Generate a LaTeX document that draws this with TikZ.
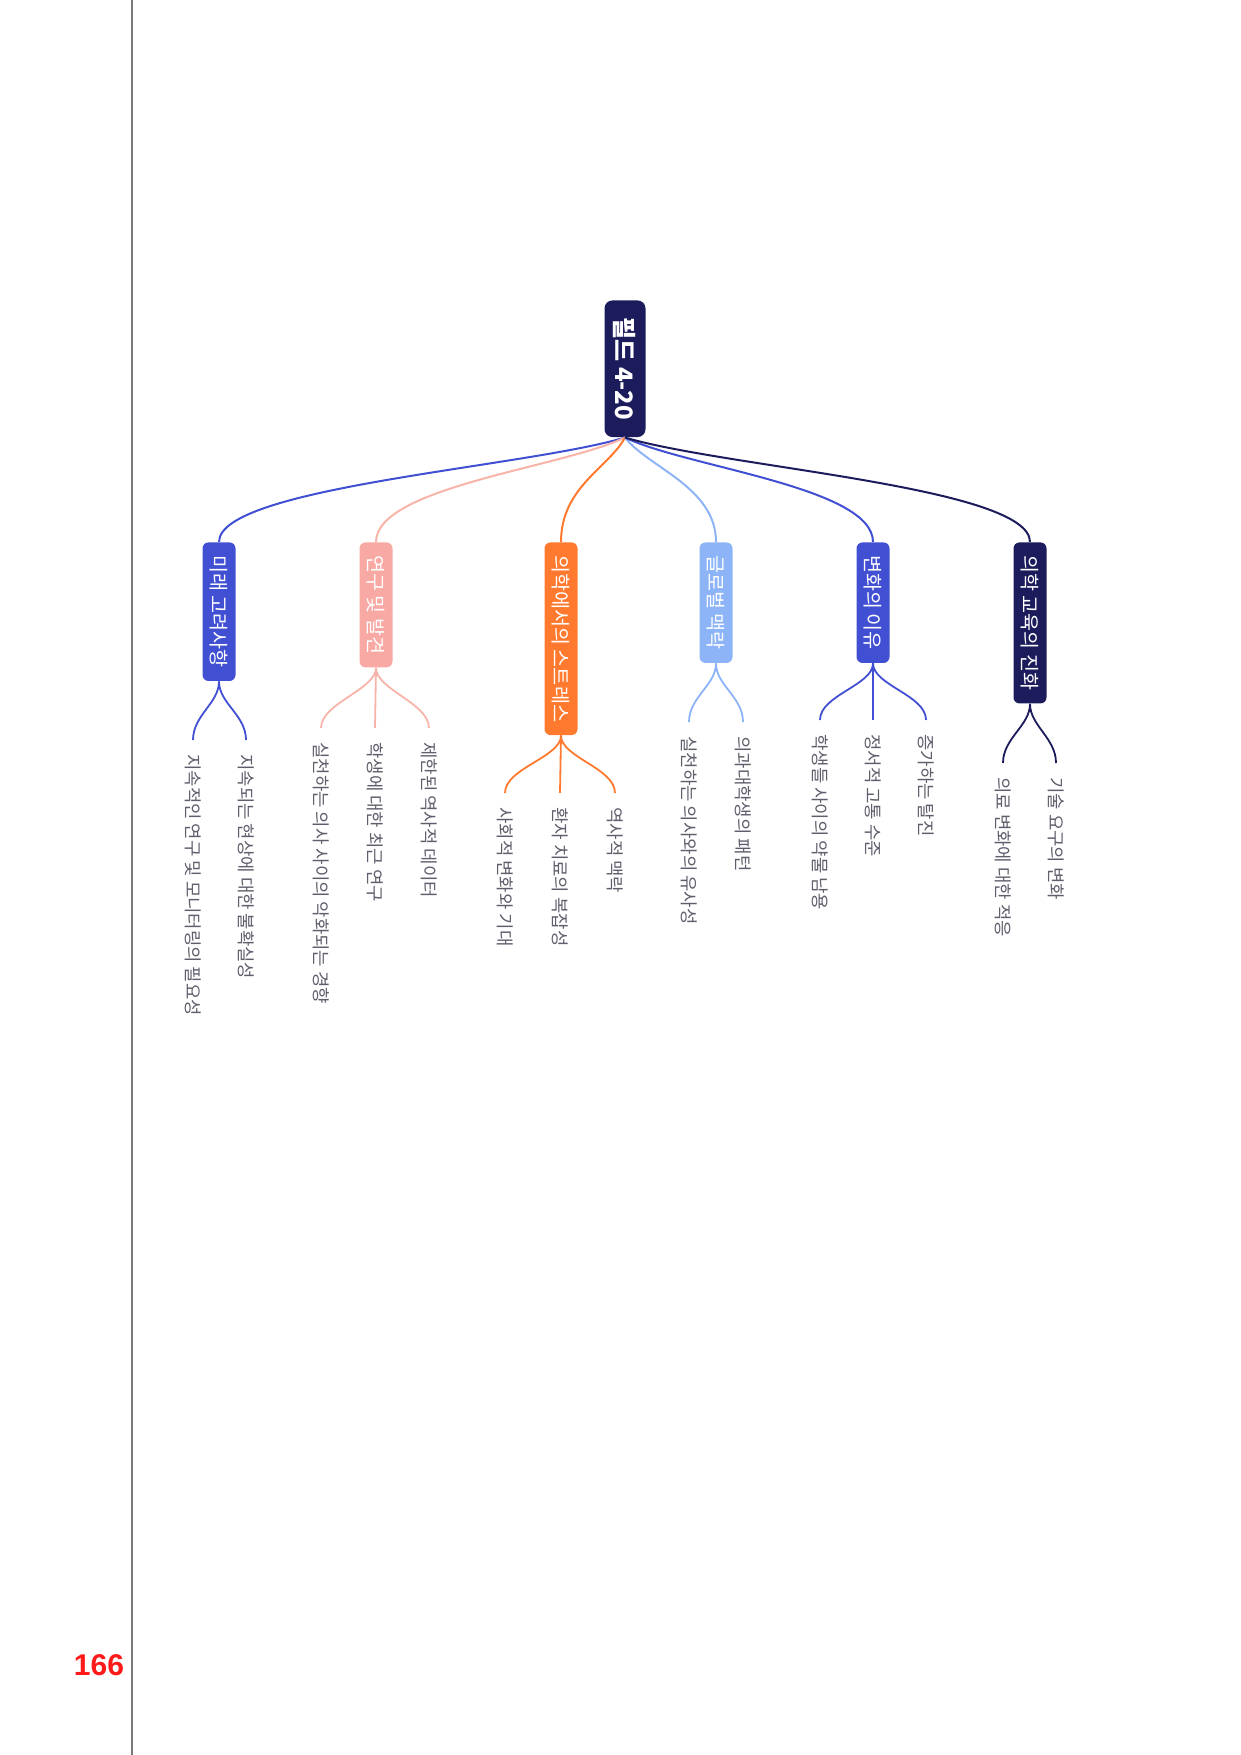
\documentclass[tikz,border=0pt]{standalone}
\usepackage{fontspec}
\setmainfont{Noto Sans CJK KR}
\newfontfamily\pagenumfont{Liberation Sans}
\usepackage{tikz}
\definecolor{mmNavy}{HTML}{1C1B5B}
\definecolor{mmBlue}{HTML}{4150D2}
\definecolor{mmPink}{HTML}{F9A9A3}
\definecolor{mmPinkLine}{HTML}{F8B4A8}
\definecolor{mmOrange}{HTML}{FF7A2F}
\definecolor{mmSky}{HTML}{8CB4F7}
\definecolor{mmText}{HTML}{5E5E6C}
\definecolor{mmRule}{HTML}{7A7A7A}
\definecolor{mmRed}{HTML}{FF1A1A}

\begin{document}
\begin{tikzpicture}[x=0.5pt,y=-0.5pt,
    rootbox/.style={fill=mmNavy, rounded corners=4pt, rotate=-90, anchor=west, text=white,
                    font=\fontsize{12}{12}\selectfont\bfseries, minimum height=20.5pt,
                    inner xsep=8.5pt, inner ysep=0pt},
    topic/.style={rounded corners=3pt, rotate=-90, anchor=west, text=white,
                  font=\fontsize{9.8}{10}\selectfont, minimum height=16.5pt,
                  inner xsep=6.5pt, inner ysep=0pt},
    leaf/.style={rotate=-90, anchor=west, text=mmText, font=\fontsize{8.9}{9}\selectfont,
                 inner xsep=7pt, inner ysep=0pt},
    link/.style={line width=1pt},
    twig/.style={line width=0.9pt}]
    \useasboundingbox (0,0) rectangle (1241,1755);
    % page furniture
    \draw[mmRule, line width=0.6pt] (132,0) -- (132,1755);
    \node[text=mmRed, font=\pagenumfont\bfseries\fontsize{15}{15}\selectfont] (pagenum) at (99,1665) {166};

    % root and topics
    \node[rootbox] (root) at (625,300) {필드 4-20};
    \node[topic, fill=mmBlue]   (future)  at (219,542)  {미래 고려사항};
    \node[topic, fill=mmPink]   (study)   at (376,542)  {연구 및 발견};
    \node[topic, fill=mmOrange] (stress)  at (561,542)  {의학에서의 스트레스};
    \node[topic, fill=mmSky]    (global)  at (716,542)  {글로벌 맥락};
    \node[topic, fill=mmBlue]   (reason)  at (873,542)  {변화의 이유};
    \node[topic, fill=mmNavy]   (evolve)  at (1030,542) {의학 교육의 진화};

    \draw[link, mmBlue]     (root.east) .. controls +(-100,30) and +(0,-55) .. (future.west);
    \draw[link, mmPinkLine] (root.east) .. controls +(-62,30) and +(0,-55) .. (study.west);
    \draw[link, mmOrange]   (root.east) .. controls +(-16,30) and +(0,-55) .. (stress.west);
    \draw[link, mmSky]      (root.east) .. controls +(23,30) and +(0,-55) .. (global.west);
    \draw[link, mmBlue]     (root.east) .. controls +(62,30) and +(0,-55) .. (reason.west);
    \draw[link, mmNavy]     (root.east) .. controls +(100,30) and +(0,-55) .. (evolve.west);

    % leaves
    \node[leaf] (future1) at (193,740) {지속적인 연구 및 모니터링의 필요성};
    \node[leaf] (future2) at (246,740) {지속되는 현상에 대한 불확실성};
    \node[leaf] (study1)  at (321,728) {실천하는 의사 사이의 악화되는 경향};
    \node[leaf] (study2)  at (375,728) {학생에 대한 최근 연구};
    \node[leaf] (study3)  at (429,728) {제한된 역사적 데이터};
    \node[leaf] (stress1) at (505,793) {사회적 변화와 기대};
    \node[leaf] (stress2) at (560,793) {환자 치료의 복잡성};
    \node[leaf] (stress3) at (615,793) {역사적 맥락};
    \node[leaf] (global1) at (689,722) {실천하는 의사와의 유사성};
    \node[leaf] (global2) at (743,722) {의과대학생의 패턴};
    \node[leaf] (reason1) at (820,720) {학생들 사이의 약물 남용};
    \node[leaf] (reason2) at (873,720) {정서적 고통 수준};
    \node[leaf] (reason3) at (926,720) {증가하는 탈진};
    \node[leaf] (evolve1) at (1003,763) {의료 변화에 대한 적응};
    \node[leaf] (evolve2) at (1056,763) {기술 요구의 변화};

    \draw[twig, mmBlue] (future.east) .. controls +(0,22) and +(0,-25) .. (future1.west);
    \draw[twig, mmBlue] (future.east) .. controls +(0,22) and +(0,-25) .. (future2.west);
    \draw[twig, mmPinkLine] (study.east) .. controls +(0,22) and +(0,-25) .. (study1.west);
    \draw[twig, mmPinkLine] (study.east) -- (study2.west);
    \draw[twig, mmPinkLine] (study.east) .. controls +(0,22) and +(0,-25) .. (study3.west);
    \draw[twig, mmOrange] (stress.east) .. controls +(0,22) and +(0,-25) .. (stress1.west);
    \draw[twig, mmOrange] (stress.east) -- (stress2.west);
    \draw[twig, mmOrange] (stress.east) .. controls +(0,22) and +(0,-25) .. (stress3.west);
    \draw[twig, mmSky] (global.east) .. controls +(0,22) and +(0,-25) .. (global1.west);
    \draw[twig, mmSky] (global.east) .. controls +(0,22) and +(0,-25) .. (global2.west);
    \draw[twig, mmBlue] (reason.east) .. controls +(0,22) and +(0,-25) .. (reason1.west);
    \draw[twig, mmBlue] (reason.east) -- (reason2.west);
    \draw[twig, mmBlue] (reason.east) .. controls +(0,22) and +(0,-25) .. (reason3.west);
    \draw[twig, mmNavy] (evolve.east) .. controls +(0,22) and +(0,-25) .. (evolve1.west);
    \draw[twig, mmNavy] (evolve.east) .. controls +(0,22) and +(0,-25) .. (evolve2.west);
\end{tikzpicture}
\end{document}
